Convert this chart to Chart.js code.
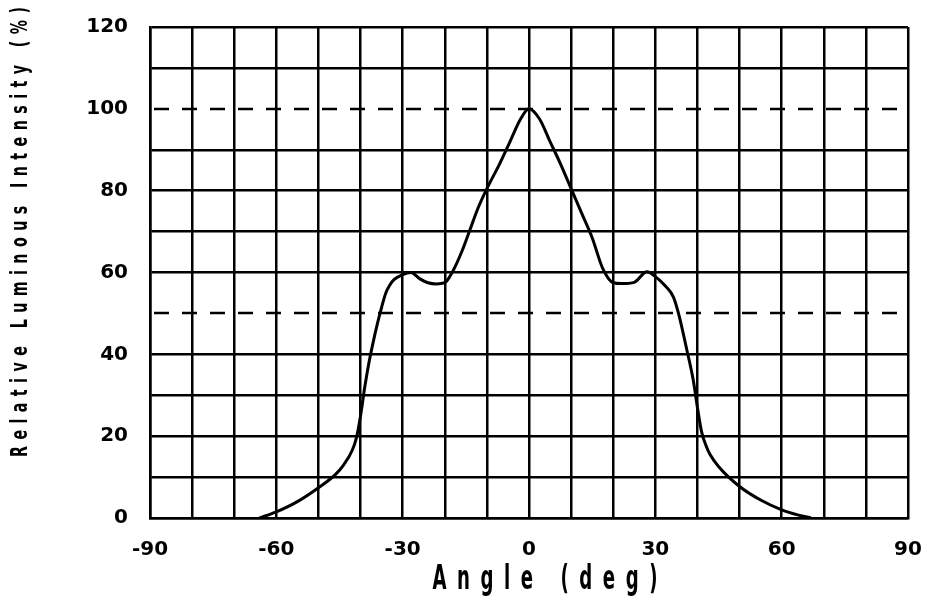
<!DOCTYPE html>
<html>
<head>
<meta charset="utf-8">
<script src="https://cdn.jsdelivr.net/npm/chart.js@4.4.0/dist/chart.umd.min.js"></script>
<style>
    html, body { margin: 0; padding: 0; background: #fff; }
    canvas { display: block; }
</style>
</head>
<body>
<canvas id="chart" width="934" height="611"></canvas>
<script>
// sudut (deg) dan intensitas relatif (%)
const angles = [-64, -60, -55, -50, -46, -44, -42, -41, -40, -39, -38, -37, -36, -35, -34, -33, -32, -30, -28, -26, -24, -22, -20, -18, -16, -14, -12, -10, -7, -4.5, -2, 0, 2.5, 5, 7.5, 10, 12.5, 15, 17.5, 20, 22, 25, 28, 30, 32.5, 34.3, 35.5, 37.5, 39, 40, 41, 42, 43, 45, 50, 55, 60, 64, 67];
const intensity = [0, 1.5, 4, 7.4, 10.6, 13, 16.5, 19.5, 25, 32, 38, 43, 47.5, 51.5, 55, 57, 58.3, 59.5, 60, 58.5, 57.5, 57.2, 57.5, 60.5, 65, 70.5, 76, 80.5, 86.5, 92, 97.5, 100, 97.5, 92, 86.5, 80.5, 74.5, 68.5, 61, 57.5, 57.3, 57.6, 60.2, 59, 56.6, 54, 50, 41, 33.7, 27, 21, 17.8, 15.5, 12.6, 7.7, 4.4, 2, 0.7, 0];

const xTickLabels = [-90, -60, -30, 0, 30, 60, 90];
const yTickLabels = [0, 20, 40, 60, 80, 100, 120];
const refLines = [50, 100];

const xTitle = 'Angle (deg)';
const yTitle = 'Relative Luminous Intensity (%)';

const tickFont = { family: "'DejaVu Sans', sans-serif", weight: 'bold', size: 20 };
const titleFamily = '"DejaVu Sans", sans-serif';

// teks dengan huruf dipersempit (sx) dan jarak huruf yang diratakan sampai panjang target
function spacedText(ctx, text, cx, cy, target, sx) {
    ctx.save();
    ctx.translate(cx - target / 2, cy);
    ctx.scale(sx, 1);
    ctx.letterSpacing = '0px';
    const w = ctx.measureText(text).width;
    const sp = (target / sx - w) / (text.length - 1);
    ctx.letterSpacing = sp + 'px';
    ctx.textAlign = 'left';
    ctx.textBaseline = 'middle';
    ctx.fillText(text, 0, 0);
    ctx.restore();
}

const extras = {
    id: 'extras',
    beforeDatasetsDraw(chart) {
        const { ctx, chartArea: a, scales: { y } } = chart;
        ctx.save();
        ctx.strokeStyle = '#000';
        ctx.lineWidth = 2.5;
        ctx.setLineDash([15, 13]);
        ctx.lineDashOffset = -4;
        refLines.forEach(v => {
            const py = Math.round(y.getPixelForValue(v));
            ctx.beginPath();
            ctx.moveTo(a.left, py);
            ctx.lineTo(a.right, py);
            ctx.stroke();
        });
        ctx.restore();
    },
    afterDraw(chart) {
        const ctx = chart.ctx;
        ctx.save();
        ctx.fillStyle = '#000';
        ctx.font = 'bold 33px ' + titleFamily;
        spacedText(ctx, xTitle, 545, 580, 225, 0.55);
        ctx.translate(21, 232);
        ctx.rotate(-Math.PI / 2);
        ctx.font = 'bold 23px ' + titleFamily;
        spacedText(ctx, yTitle, 0, 0, 450, 0.62);
        ctx.restore();
    }
};

new Chart(document.getElementById('chart').getContext('2d'), {
    type: 'scatter',
    data: {
        datasets: [{
            data: angles.map((a, i) => ({ x: a, y: intensity[i] })),
            showLine: true,
            borderColor: '#000',
            borderWidth: 3,
            pointRadius: 0,
            cubicInterpolationMode: 'monotone',
            fill: false,
        }]
    },
    options: {
        responsive: false,
        animation: false,
        layout: { padding: { top: 27, right: 26, left: 0, bottom: 0 } },
        plugins: {
            legend: { display: false },
            tooltip: { enabled: false }
        },
        scales: {
            x: {
                type: 'linear',
                min: -90,
                max: 90,
                ticks: {
                    stepSize: 10,
                    autoSkip: false,
                    maxRotation: 0,
                    padding: 20,
                    color: '#000',
                    font: tickFont,
                    callback: v => xTickLabels.includes(v) ? String(v) : ''
                },
                grid: { color: '#000', lineWidth: 2.5, drawTicks: false },
                border: { color: '#000', width: 2.5 },
                afterFit: s => {
                    s.height = 93;
                    s.paddingLeft = 0;
                    s.paddingRight = 0;
                }
            },
            y: {
                min: 0,
                max: 120,
                ticks: {
                    stepSize: 10,
                    autoSkip: false,
                    padding: 22,
                    color: '#000',
                    font: tickFont,
                    callback: v => yTickLabels.includes(v) ? String(v) : ''
                },
                grid: {
                    color: c => refLines.includes(c.tick.value) ? 'rgba(0,0,0,0)' : '#000',
                    lineWidth: 2.5,
                    drawTicks: false
                },
                border: { color: '#000', width: 2.5 },
                afterFit: s => {
                    s.width = 150;
                    s.paddingTop = 0;
                    s.paddingBottom = 0;
                }
            }
        }
    },
    plugins: [extras]
});
</script>
</body>
</html>
